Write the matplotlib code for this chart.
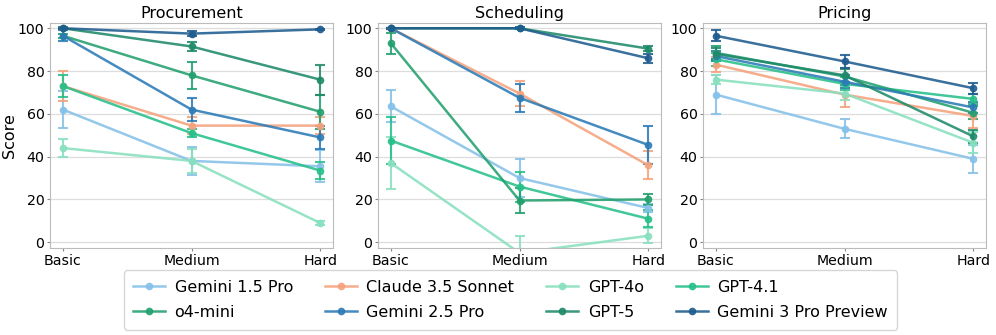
import matplotlib
matplotlib.use("Agg")
import matplotlib.pyplot as plt
from matplotlib.lines import Line2D
import numpy as np

levels = ["Basic", "Medium", "Hard"]
tasks = ["Procurement", "Scheduling", "Pricing"]
models = ["Gemini 1.5 Pro", "Claude 3.5 Sonnet", "GPT-4o", "GPT-4.1",
          "o4-mini", "Gemini 2.5 Pro", "GPT-5", "Gemini 3 Pro Preview"]
colors = ["#85C1E9", "#F5A27C", "#88E0BF", "#27C08A",
          "#23A06E", "#2C7BB6", "#1F8A6A", "#1F5C8F"]

# scores[task][model] = (Basic, Medium, Hard)
procurement = {
    "Gemini 1.5 Pro": [62, 38, 35.5],
    "Claude 3.5 Sonnet": [73, 54.5, 54.5],
    "GPT-4o": [44, 38, 9],
    "GPT-4.1": [73, 51, 33.5],
    "o4-mini": [96.5, 78, 61],
    "Gemini 2.5 Pro": [96.5, 62, 49],
    "GPT-5": [100, 91.5, 76],
    "Gemini 3 Pro Preview": [100, 97.5, 99.5],
}
procurement_err = {
    "Gemini 1.5 Pro": [8.5, 6.5, 7.5],
    "Claude 3.5 Sonnet": [7, 4, 4],
    "GPT-4o": [4.3, 5.5, 1],
    "GPT-4.1": [5, 2, 3.8],
    "o4-mini": [1, 6.3, 8],
    "Gemini 2.5 Pro": [2.5, 5.5, 5.5],
    "GPT-5": [0.5, 2, 7],
    "Gemini 3 Pro Preview": [0.3, 1.2, 0.3],
}
scheduling = {
    "Gemini 1.5 Pro": [63.5, 30, 16],
    "Claude 3.5 Sonnet": [100, 69.5, 36],
    "GPT-4o": [37, -5, 3],
    "GPT-4.1": [47.5, 26, 11],
    "o4-mini": [93, 19.5, 20],
    "Gemini 2.5 Pro": [100, 67.5, 45.5],
    "GPT-5": [100, 100, 90.5],
    "Gemini 3 Pro Preview": [100, 100, 86],
}
scheduling_err = {
    "Gemini 1.5 Pro": [7.5, 9, 2],
    "Claude 3.5 Sonnet": [0.3, 6, 6.5],
    "GPT-4o": [12, 8, 3.5],
    "GPT-4.1": [11, 7, 4],
    "o4-mini": [5, 6, 2.5],
    "Gemini 2.5 Pro": [0.3, 6.5, 9],
    "GPT-5": [0.3, 0.3, 1],
    "Gemini 3 Pro Preview": [0.3, 0.5, 2],
}
pricing = {
    "Gemini 1.5 Pro": [69, 53, 39],
    "Claude 3.5 Sonnet": [83, 69, 59],
    "GPT-4o": [76, 69.5, 46.5],
    "GPT-4.1": [85.5, 74, 67],
    "o4-mini": [88.5, 77.5, 60.5],
    "Gemini 2.5 Pro": [87, 75, 63],
    "GPT-5": [88, 78, 49.5],
    "Gemini 3 Pro Preview": [96.5, 84.5, 72],
}
pricing_err = {
    "Gemini 1.5 Pro": [9, 4.5, 6.5],
    "Claude 3.5 Sonnet": [3.5, 6, 5.5],
    "GPT-4o": [2, 3, 5],
    "GPT-4.1": [3, 3, 2.5],
    "o4-mini": [3, 4, 3],
    "Gemini 2.5 Pro": [2.5, 3, 2.5],
    "GPT-5": [3, 3, 3],
    "Gemini 3 Pro Preview": [2.5, 3, 2.5],
}
data = [(procurement, procurement_err), (scheduling, scheduling_err), (pricing, pricing_err)]

W, H = 996, 335
fig = plt.figure(figsize=(W / 100, H / 100), dpi=100)
lefts = [50, 378, 703]
width = 283
top, bottom = 22.5, 248
axes = []
for i, (task, (vals, errs)) in enumerate(zip(tasks, data)):
    ax = fig.add_axes([lefts[i] / W, 1 - bottom / H, width / W, (bottom - top) / H])
    axes.append(ax)
    x = np.arange(len(levels))
    for m, c in zip(models, colors):
        ax.errorbar(x, vals[m], yerr=errs[m], color=c, marker="o", markersize=4.5,
                    linewidth=1.8, capsize=3.5, elinewidth=1.5, capthick=1.5,
                    alpha=0.88, label=m)
    ax.set_title(task, fontsize=11.5, pad=3)
    ax.set_xticks(x)
    ax.set_xticklabels(levels)
    ax.set_xlim(-0.1, 2.1)
    ax.set_ylim(-2.7, 102.7)
    ax.set_yticks([0, 20, 40, 60, 80, 100])
    ax.tick_params(axis="both", labelsize=10.2, color="#888888", length=2.5, pad=1.5)
    ax.grid(axis="y", color="#dddddd", linewidth=0.9)
    ax.set_axisbelow(True)
    for s in ax.spines.values():
        s.set_color("#bbbbbb")
    if i == 0:
        ax.set_ylabel("Score", fontsize=11.5)
        ax.yaxis.set_label_coords(-0.118, 0.5)

order = [0, 4, 1, 5, 2, 6, 3, 7]
handles = [Line2D([0], [0], color=colors[k], marker="o", markersize=4.5,
                  linewidth=1.8, alpha=0.88) for k in order]
labels = [models[k] for k in order]
fig.legend(handles, labels, loc="center", bbox_to_anchor=(510.5 / W, 1 - 300 / H),
           ncol=4, fontsize=11.5, frameon=True, edgecolor="#cccccc",
           handlelength=2, columnspacing=2.0, handletextpad=0.6,
           borderpad=0.6, labelspacing=0.62, fancybox=True)

fig.savefig("out.png", dpi=100)
